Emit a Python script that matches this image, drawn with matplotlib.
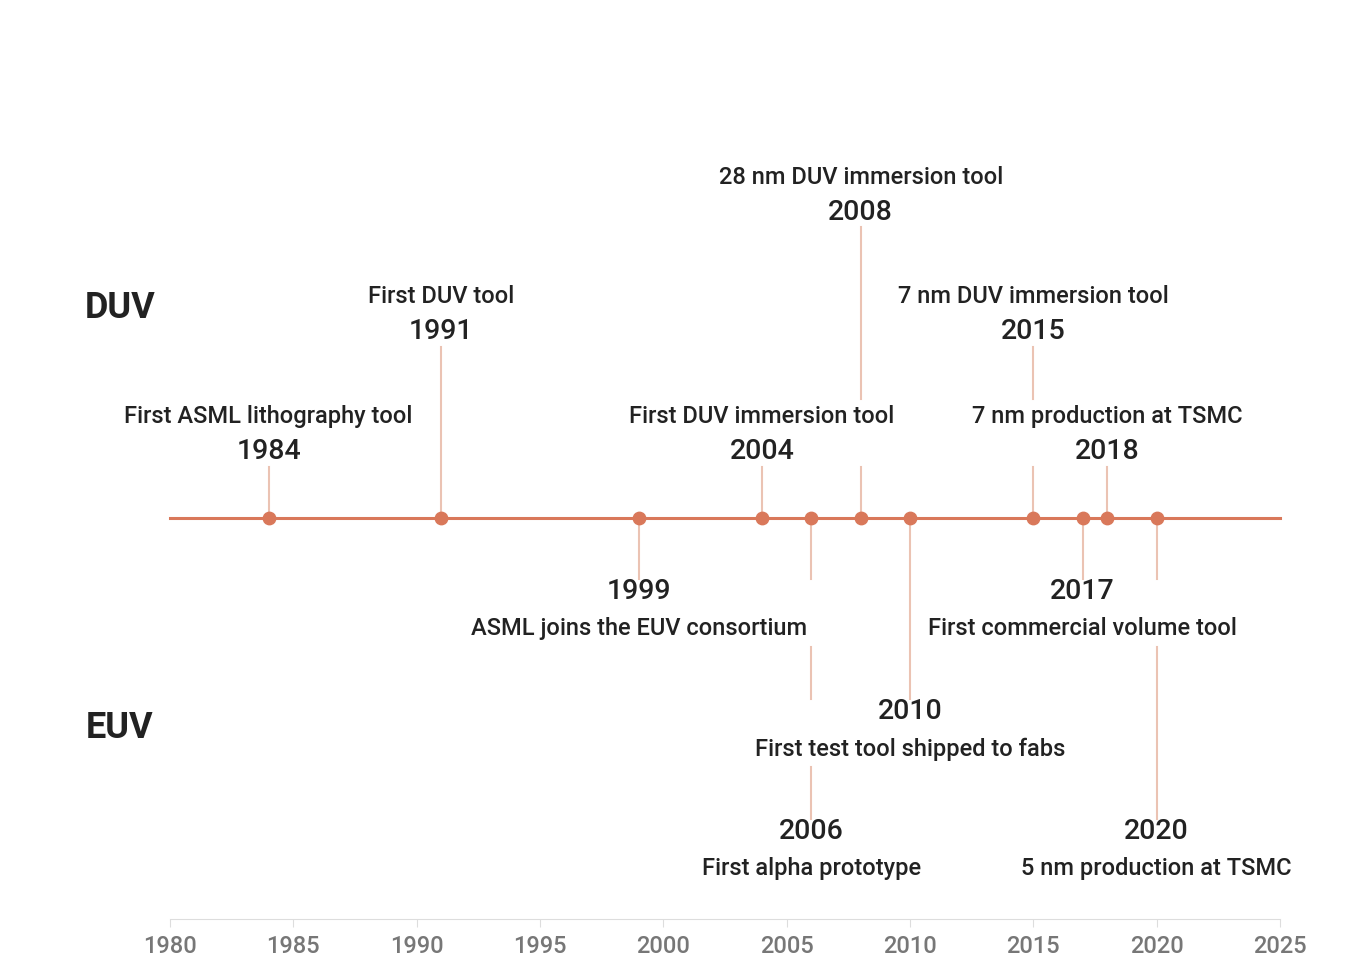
import matplotlib.pyplot as plt

plt.rcParams['font.family'] = ['Roboto', 'DejaVu Sans']

# events: year, label, row (negative = above line, positive = below)
years = [1984, 1991, 1999, 2004, 2006, 2008, 2010, 2015, 2017, 2018, 2020]
labels = ['First ASML lithography tool', 'First DUV tool', 'ASML joins the EUV consortium',
          'First DUV immersion tool', 'First alpha prototype', '28 nm DUV immersion tool',
          'First test tool shipped to fabs', '7 nm DUV immersion tool',
          'First commercial volume tool', '7 nm production at TSMC', '5 nm production at TSMC']
rows = [-1, -2, 1, -1, 3, -3, 2, -2, 1, -1, 3]
# stem pieces (pixel rows), broken where other labels sit
stems = [[(468, 519)], [(348, 519)], [(519, 580)], [(468, 519)],
         [(519, 580), (648, 700), (768, 820)], [(228, 400), (468, 519)],
         [(519, 700)], [(348, 400), (468, 519)], [(519, 580)], [(468, 519)],
         [(519, 580), (648, 820)]]
tick_years = list(range(1980, 2030, 5))

line_c = '#d9785a'
stem_c = '#ebc3b3'
text_c = '#222222'
line_y = 519

fig = plt.figure(figsize=(13.6, 9.7), dpi=100)
ax = fig.add_axes([0, 50 / 970, 1, 920 / 970])
ppy = 1110 / 45
ax.set_xlim(1980 - 170 / ppy, 2025 + 80 / ppy)
ax.set_ylim(920, 0)

ax.plot([1980, 2025], [line_y, line_y], color=line_c, lw=2.2, zorder=2)
for yr, segs in zip(years, stems):
    for a, b in segs:
        ax.plot([yr, yr], [a, b], color=stem_c, lw=1.5, zorder=1)
ax.scatter(years, [line_y] * len(years), s=80, color=line_c, zorder=3)

for yr, lab, r in zip(years, labels, rows):
    if r < 0:
        yy = 452 - 120 * (-r - 1)
        ax.text(yr, yy, str(yr), ha='center', va='center', fontsize=20.5, color=text_c, fontweight='medium')
        ax.text(yr, yy - 35, lab, ha='center', va='center', fontsize=17, color=text_c, fontweight='medium')
    else:
        yy = 592 + 120 * (r - 1)
        ax.text(yr, yy, str(yr), ha='center', va='center', fontsize=20.5, color=text_c, fontweight='medium')
        ax.text(yr, yy + 37, lab, ha='center', va='center', fontsize=17, color=text_c, fontweight='medium')

ax.text(120 / ppy + ax.get_xlim()[0], 308, 'DUV', ha='center', va='center', fontsize=26, fontweight='bold', color=text_c)
ax.text(120 / ppy + ax.get_xlim()[0], 728, 'EUV', ha='center', va='center', fontsize=26, fontweight='bold', color=text_c)

for s in ['top', 'left', 'right']:
    ax.spines[s].set_visible(False)
ax.spines['bottom'].set_bounds(1980, 2025)
ax.spines['bottom'].set_color('#dddddd')
ax.set_yticks([])
ax.set_xticks(tick_years)
ax.set_xticklabels([str(t) for t in tick_years])
ax.tick_params(axis='x', colors='#dddddd', labelcolor='#777777', labelsize=17, length=6, pad=5)
for t in ax.get_xticklabels():
    t.set_fontweight('medium')

fig.savefig('out.png', dpi=100)
